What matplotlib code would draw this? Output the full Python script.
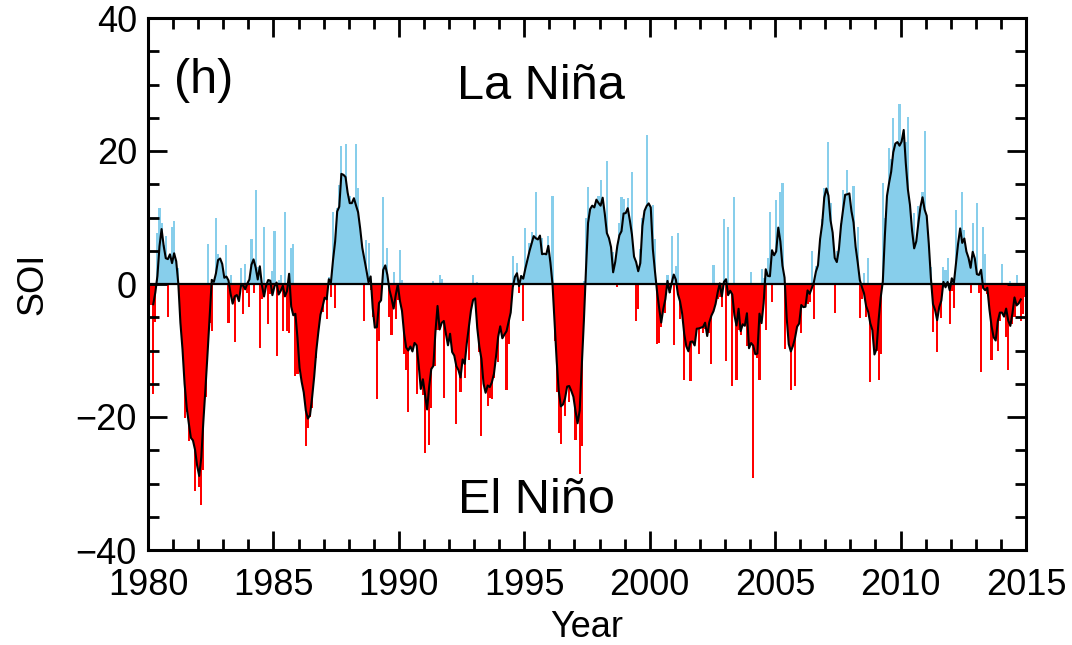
import numpy as np
import matplotlib
matplotlib.use("Agg")
import matplotlib.pyplot as plt
from matplotlib.ticker import MultipleLocator

plt.rcParams['font.family'] = ['Liberation Sans', 'DejaVu Sans']

# monthly SOI, one row per plotted year (Jan..Dec)
soi_rows = [
    [2.7, -3.2, -16.6, -5.7, 7.6, 11.5, 9.2, 5.8, 7.2, -5.0, 2.2, 8.5],            # 1980
    [9.4, 0.6, 2.4, -3.8, -8.2, -20.1, -19.3, -23.6, -21.4, -20.2, -31.1, -21.3],  # 1981
    [-30.6, -33.3, -28.0, -17.0, 6.0, -5.9, -7.0, 0.1, 9.9, 4.5, 0.5, 3.0],        # 1982
    [1.3, 5.8, -5.9, 1.4, 0.1, -8.7, -1.7, -0.4, 2.4, -4.5, 3.0, -1.4],            # 1983
    [-3.5, 6.7, -1.4, 14.1, 2.6, -9.6, -2.3, 8.5, 0.0, -6.0, -1.5, 2.0],           # 1984
    [8.0, -10.9, 0.6, 1.4, -7.0, 10.8, -7.1, -7.4, 5.4, 6.0, -13.9, -13.6],        # 1985
    [-6.3, -12.6, -16.6, -24.4, -21.6, -20.0, -18.6, -14.0, -11.2, -5.8, -0.7, -4.2],  # 1986
    [-1.1, -5.3, 1.0, -1.9, 10.9, -3.6, 11.5, 14.9, 20.8, 14.6, 21.0, 10.8],       # 1987
    [13.2, 9.1, 6.7, 21.0, 14.5, 7.8, 4.0, -5.6, 6.6, 6.1, -0.9, -5.0],            # 1988
    [-1.1, -17.3, -8.5, -0.5, 13.1, 1.0, 5.4, -5.0, -7.6, 1.8, -5.3, -2.4],        # 1989
    [5.1, 0.6, -10.6, -12.9, -19.3, -5.5, -1.7, -7.6, -16.6, -12.9, -7.3, -16.7],  # 1990
    [-25.4, -9.3, -24.2, -18.7, 0.5, -12.3, -6.9, 1.4, 0.8, -17.2, -7.3, -5.5],    # 1991
    [-8.2, -7.9, -8.5, -21.1, -8.1, -16.2, -10.8, -14.1, -7.5, -11.5, -0.6, 1.3],  # 1992
    [-1.5, 0.3, -10.3, -22.8, -12.9, -10.6, -18.3, -17.2, -17.3, -14.1, -7.0, -11.8],  # 1993
    [-4.0, -2.8, -6.2, -16.0, -9.0, -1.5, 4.2, 0.8, 3.1, -1.3, 1.3, -5.5],         # 1994
    [8.4, 1.1, 6.2, 7.8, 1.3, 13.9, 6.8, 4.6, 6.9, 4.2, -0.1, 7.2],                # 1995
    [4.1, 13.3, -8.5, -16.2, -22.4, -24.1, -9.5, -19.8, -14.8, -17.8, -15.2, -9.1],  # 1996
    [-23.5, -19.2, -28.5, -24.4, 0.5, 9.9, 14.6, 9.8, 11.1, 10.9, 12.5, 13.3],     # 1997
    [15.6, 8.6, 8.9, 18.5, 1.3, 1.0, 4.8, 2.1, -0.4, 9.1, 13.1, 12.8],             # 1998
    [5.1, 12.9, 9.4, 16.8, 3.6, -5.5, -3.7, 5.3, 9.9, 9.7, 22.4, 7.7],             # 1999
    [8.9, 11.9, 6.7, -9.0, -8.8, -6.4, -0.4, -4.4, 1.3, -1.4, 7.2, -9.1],          # 2000
    [2.7, 7.7, -5.2, -3.8, -14.5, -6.3, -7.6, -14.6, -7.6, -7.4, -6.0, -10.6],     # 2001
    [-2.0, -7.4, -6.8, -5.5, -7.4, -12.0, 2.9, -1.8, -2.2, -1.9, -3.4, 9.8],       # 2002
    [-11.6, 8.6, 0.2, -15.4, 13.1, -14.4, -6.9, -7.6, -2.8, -3.7, -9.3, -8.0],     # 2003
    [1.8, -29.1, 0.2, -11.2, -14.5, 2.3, 0.9, -6.9, 3.9, 10.9, -2.7, 0.6],         # 2004
    [12.7, 0.1, 13.8, 15.2, -9.8, -5.5, -8.9, -15.9, -5.1, -15.3, -1.4, -3.0],     # 2005
    [-7.3, -2.7, -1.4, -3.0, -2.7, 5.0, -5.3, 2.7, 1.5, 5.4, 9.8, 14.4],           # 2006
    [14.1, 21.3, 12.2, 4.5, -4.3, 5.0, 2.2, 9.1, 14.1, 13.5, 17.1, 13.3],          # 2007
    [9.4, 14.8, 0.2, 8.6, -5.1, -2.3, 1.6, -5.0, 3.9, -14.7, -6.7, -7.0],          # 2008
    [-10.1, -14.5, -10.6, 15.2, 9.9, 1.8, 20.5, 18.8, 25.0, 18.3, 16.4, 27.1],     # 2009
    [19.9, 22.3, 21.4, 25.1, 2.1, 0.2, 10.7, 2.1, 11.7, 7.3, 13.8, 23.0],          # 2010
    [9.4, 2.5, 2.6, -7.2, -2.8, -10.2, -1.9, -5.1, 2.6, 2.1, 3.9, -6.0],           # 2011
    [-1.1, -3.6, 11.1, 0.3, 8.4, 13.9, 8.1, 0.2, 3.6, -1.4, 9.2, 0.6],             # 2012
    [12.2, -1.3, -13.3, 8.6, 4.5, -1.5, -3.0, -11.4, -7.6, -8.0, -10.0, -5.5],     # 2013
    [3.0, -1.0, -8.0, -13.0, 0.5, -6.0, -5.0, 1.4, -1.0, -5.5, -4.5, -2.0],        # 2014
]
start_year = 1980
xticks = [1980, 1985, 1990, 1995, 2000, 2005, 2010, 2015]
yticks = [-40, -20, 0, 20, 40]

soi = np.array(soi_rows).ravel()
t = start_year + (np.arange(len(soi)) + 0.5) / 12.0

# 5-month running mean
smooth = np.convolve(soi, np.ones(5) / 5.0, mode='valid')
ts = t[2:-2]

blue = '#87CEEB'
red = '#FF0000'

fig = plt.figure(figsize=(10.72, 6.45), dpi=100)
ax = fig.add_axes([148 / 1072, 1 - 550 / 645, (1026 - 148) / 1072, (550 - 18) / 645])

ax.fill_between(ts, smooth, 0, where=smooth >= 0, interpolate=True, color=blue, lw=0)
ax.fill_between(ts, smooth, 0, where=smooth <= 0, interpolate=True, color=red, lw=0)
colors = np.where(soi >= 0, blue, red)
ax.bar(t, soi, width=1.0 / 12, color=colors, linewidth=0, antialiased=False)
ax.plot(ts, smooth, color='black', lw=1.5)
ax.axhline(0, color='black', lw=1.6)

ax.set_xlim(1980, 2015)
ax.set_ylim(-40, 40)
ax.set_xticks(xticks)
ax.set_yticks(yticks)
ax.xaxis.set_minor_locator(MultipleLocator(1))
ax.yaxis.set_minor_locator(MultipleLocator(5))
ax.tick_params(which='both', direction='in', top=True, right=True, width=2,
               labelsize=26)
ax.tick_params(axis='x', pad=13)
ax.tick_params(axis='y', pad=8)
ax.tick_params(which='major', length=14)
ax.tick_params(which='minor', length=8)
for s in ax.spines.values():
    s.set_linewidth(2.2)

ax.set_xlabel('Year', fontsize=26, labelpad=5)
ax.set_ylabel('SOI', fontsize=26, labelpad=18)

ax.text(1981.05, 30.6, '(h)', fontsize=35, ha='left', va='center')
ax.text(1995.65, 29.7, 'La Niña', fontsize=35, ha='center', va='center')
ax.text(1995.5, -32.6, 'El Niño', fontsize=35, ha='center', va='center')

fig.savefig('out.png', dpi=100)
